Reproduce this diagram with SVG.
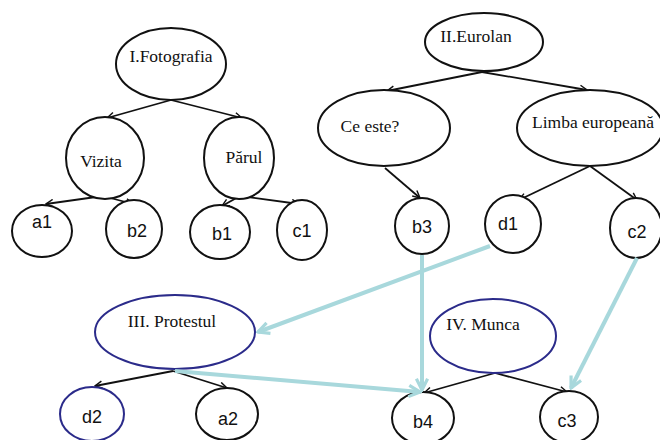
<svg xmlns="http://www.w3.org/2000/svg" width="660" height="440" viewBox="0 0 660 440">
<style>
.n{fill:#fff;stroke:#111;stroke-width:2}
.nb{fill:#fff;stroke:#2b2b8a;stroke-width:2}
.t{font-family:"Liberation Serif","Times New Roman",serif;font-size:17.5px;fill:#111;text-anchor:middle}
.s{font-family:"Liberation Sans",Arial,sans-serif;font-size:18px;fill:#111;text-anchor:middle}
.e{fill:none;stroke:#111;stroke-width:1.8}
.lb{fill:none;stroke:#a8d8dc;stroke-width:4}
</style>
<defs>
<marker id="ah" viewBox="0 0 10 10" refX="9" refY="5" markerWidth="9" markerHeight="9" markerUnits="userSpaceOnUse" orient="auto">
<path d="M1,1 L9,5 L1,9" fill="none" stroke="#111" stroke-width="1.6"/>
</marker>
<marker id="ab" viewBox="0 0 10 10" refX="9" refY="5" markerWidth="16" markerHeight="16" markerUnits="userSpaceOnUse" orient="auto">
<path d="M2,1.5 L9,5 L2,8.5" fill="none" stroke="#a8d8dc" stroke-width="2"/>
</marker>
</defs>
<rect width="660" height="440" fill="#fff"/>
<g id="connectors">
<line class="e" x1="171" y1="100" x2="107" y2="118" marker-end="url(#ah)"/>
<line class="e" x1="171" y1="100" x2="242" y2="118" marker-end="url(#ah)"/>
<line class="e" x1="103" y1="196" x2="46" y2="204" marker-end="url(#ah)"/>
<line class="e" x1="103" y1="196" x2="133" y2="204" marker-end="url(#ah)"/>
<line class="e" x1="240" y1="196" x2="222" y2="206" marker-end="url(#ah)"/>
<line class="e" x1="240" y1="196" x2="299" y2="204" marker-end="url(#ah)"/>
<line class="e" x1="482" y1="72" x2="387" y2="91" marker-end="url(#ah)"/>
<line class="e" x1="482" y1="72" x2="587" y2="90" marker-end="url(#ah)"/>
<line class="e" x1="385" y1="168" x2="420" y2="198" marker-end="url(#ah)"/>
<line class="e" x1="590" y1="166" x2="519" y2="200" marker-end="url(#ah)"/>
<line class="e" x1="590" y1="166" x2="637" y2="200" marker-end="url(#ah)"/>
<line class="e" x1="173" y1="371" x2="95" y2="386" marker-end="url(#ah)"/>
<line class="e" x1="173" y1="371" x2="227" y2="388" marker-end="url(#ah)"/>
<line class="e" x1="495" y1="373" x2="424" y2="393" marker-end="url(#ah)"/>
<line class="e" x1="495" y1="373" x2="567" y2="392" marker-end="url(#ah)"/>
</g>
<g id="n-fotografia"><ellipse class="n" cx="171" cy="64" rx="55" ry="36"/><text class="t" x="171" y="62">I.Fotografia</text></g>
<g id="n-vizita"><ellipse class="n" cx="105" cy="158" rx="39" ry="41"/><text class="t" x="101" y="167">Vizita</text></g>
<g id="n-parul"><ellipse class="n" cx="239" cy="158" rx="35" ry="41"/><text class="t" x="244" y="163">Părul</text></g>
<g id="n-a1"><ellipse class="n" cx="42" cy="231" rx="30" ry="26"/><text class="s" x="42" y="228">a1</text></g>
<g id="n-b2"><ellipse class="n" cx="134" cy="229" rx="28" ry="29"/><text class="s" x="137" y="237">b2</text></g>
<g id="n-b1"><ellipse class="n" cx="220" cy="232" rx="30" ry="27"/><text class="s" x="222" y="240">b1</text></g>
<g id="n-c1"><ellipse class="n" cx="302" cy="230" rx="25" ry="30"/><text class="s" x="302" y="237">c1</text></g>
<g id="n-eurolan"><ellipse class="n" cx="484" cy="42" rx="59" ry="29"/><text class="t" x="476" y="42">II.Eurolan</text></g>
<g id="n-ceeste"><ellipse class="n" cx="384" cy="128" rx="66" ry="38"/><text class="t" x="370" y="132">Ce este?</text></g>
<g id="n-limba"><ellipse class="n" cx="590" cy="128" rx="73" ry="38"/><text class="t" x="593" y="128">Limba europeană</text></g>
<g id="n-b3"><ellipse class="n" cx="422" cy="226" rx="27" ry="28"/><text class="s" x="422" y="233">b3</text></g>
<g id="n-d1"><ellipse class="n" cx="513" cy="224" rx="28" ry="29"/><text class="s" x="508" y="230">d1</text></g>
<g id="n-c2"><ellipse class="n" cx="636" cy="228" rx="26" ry="30"/><text class="s" x="637" y="238">c2</text></g>
<g id="n-protestul"><ellipse class="nb" cx="175" cy="332" rx="80" ry="37"/><text class="t" x="172" y="327">III. Protestul</text></g>
<g id="n-d2"><ellipse class="nb" cx="92" cy="414" rx="32" ry="27"/><text class="s" x="92" y="423">d2</text></g>
<g id="n-a2"><ellipse class="n" cx="227" cy="414" rx="31" ry="26"/><text class="s" x="228" y="425">a2</text></g>
<g id="n-munca"><ellipse class="nb" cx="493" cy="336" rx="63" ry="37"/><text class="t" x="483" y="330">IV. Munca</text></g>
<g id="n-b4"><ellipse class="n" cx="423" cy="418" rx="31" ry="26"/><text class="s" x="423" y="428">b4</text></g>
<g id="n-c3"><ellipse class="n" cx="569" cy="417" rx="29" ry="26"/><text class="s" x="567" y="427">c3</text></g>
<g id="cross-links">
<line class="lb" x1="490" y1="246" x2="258" y2="332" marker-end="url(#ab)"/>
<line class="lb" x1="422" y1="255" x2="422" y2="390" marker-end="url(#ab)"/>
<line class="lb" x1="175" y1="371" x2="420" y2="392" marker-end="url(#ab)"/>
<line class="lb" x1="637" y1="258" x2="571" y2="388" marker-end="url(#ab)"/>
</g>
</svg>
